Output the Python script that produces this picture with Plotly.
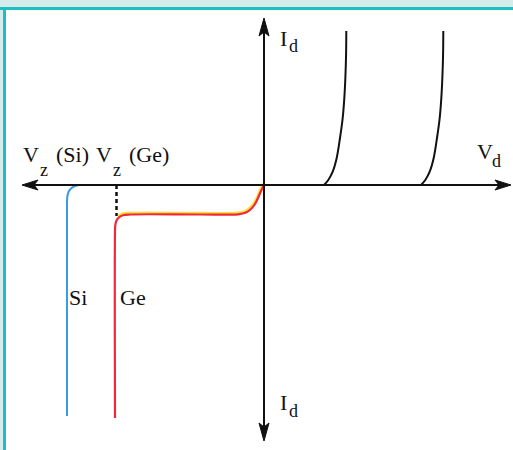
import plotly.graph_objects as go

# axis positions (pixel units of the picture)
origin_x = 264
origin_y = 185

# forward-bias curves (Ge and Si knees)
fwd_ge_x = [324, 328.3, 332.7, 336.7, 340, 342.7, 344.7, 346, 346.3]
fwd_ge_y = [185, 180, 171.7, 158, 138, 118, 91.7, 58, 31]
fwd_si_x = [421, 425.3, 429.7, 433.7, 437, 439.7, 441.7, 443, 443.3]
fwd_si_y = [185, 180, 171.7, 158, 138, 118, 91.7, 58, 31]

# reverse-bias curves
rev_ge_x = [264, 261, 258, 255, 251, 246, 238, 200, 130, 123, 119, 116.5, 115.3, 115, 115]
rev_ge_y = [185, 191, 198, 204, 209, 212.5, 214.3, 214.5, 214.5, 215.3, 217.3, 220.5, 225, 232, 418]
rev_si_x = [79, 75, 71, 68.5, 67.3, 67, 67]
rev_si_y = [185, 186, 188.5, 192, 197, 204, 416]

vz_ge_x = 116.5
vz_ge_y = 216

# text pieces: main letters and subscripts
main_text = ["I", "I", "V", "V", "(Si)", "V", "(Ge)", "Si", "Ge"]
main_x = [278, 278, 475, 21, 54, 94, 127, 67, 118]
main_y = [38, 402, 151, 154, 154, 154, 154, 297, 297]
sub_text = ["d", "d", "d", "z", "z"]
sub_x = [287, 287, 490, 38, 111]
sub_y = [46, 411, 161, 170, 170]

fig = go.Figure()

# yellow highlight under the Ge reverse curve
fig.add_trace(go.Scatter(x=[v - 0.8 for v in rev_ge_x[:11]], y=[v - 1.6 for v in rev_ge_y[:11]],
                         mode="lines", line=dict(color="#f5e03a", width=2.2, shape="spline"),
                         hoverinfo="skip"))
fig.add_trace(go.Scatter(x=rev_ge_x, y=rev_ge_y, mode="lines",
                         line=dict(color="#f0283c", width=2.2, shape="spline"), hoverinfo="skip"))
fig.add_trace(go.Scatter(x=rev_si_x, y=rev_si_y, mode="lines",
                         line=dict(color="#3a9be0", width=2, shape="spline"), hoverinfo="skip"))
fig.add_trace(go.Scatter(x=fwd_ge_x, y=fwd_ge_y, mode="lines",
                         line=dict(color="#111111", width=2, shape="spline"), hoverinfo="skip"))
fig.add_trace(go.Scatter(x=fwd_si_x, y=fwd_si_y, mode="lines",
                         line=dict(color="#111111", width=2, shape="spline"), hoverinfo="skip"))
# dashed Vz(Ge) marker
fig.add_trace(go.Scatter(x=[vz_ge_x, vz_ge_x], y=[origin_y, vz_ge_y], mode="lines",
                         line=dict(color="#111111", width=2.5, dash="4px,3px"), hoverinfo="skip"))

shapes = [
    # frame: light strip and teal border
    dict(type="rect", xref="paper", yref="paper", x0=0, x1=1, y0=1 - 7 / 450, y1=1,
         fillcolor="#d4ecec", line_width=0, layer="below"),
    dict(type="rect", xref="paper", yref="paper", x0=0, x1=3 / 513, y0=0, y1=1,
         fillcolor="#d4ecec", line_width=0, layer="below"),
    dict(type="rect", xref="paper", yref="paper", x0=0, x1=1, y0=1 - 10 / 450, y1=1 - 7 / 450,
         fillcolor="#1fbfc1", line_width=0, layer="below"),
    dict(type="rect", xref="paper", yref="paper", x0=3 / 513, x1=6 / 513, y0=0, y1=1 - 7 / 450,
         fillcolor="#1fbfc1", line_width=0, layer="below"),
    # axes
    dict(type="line", x0=30, x1=500, y0=origin_y, y1=origin_y, line=dict(color="#111111", width=2)),
    dict(type="line", x0=origin_x, x1=origin_x, y0=28, y1=430, line=dict(color="#111111", width=2)),
    # arrowheads
    dict(type="path", path="M 22 185 L 38 180 L 34 185 L 38 190 Z",
         fillcolor="#111111", line=dict(color="#111111", width=1)),
    dict(type="path", path="M 511 185 L 495 180 L 499 185 L 495 190 Z",
         fillcolor="#111111", line=dict(color="#111111", width=1)),
    dict(type="path", path="M 264 18 L 259 36 L 264 32 L 269 36 Z",
         fillcolor="#111111", line=dict(color="#111111", width=1)),
    dict(type="path", path="M 264 441 L 259 423 L 264 427 L 269 423 Z",
         fillcolor="#111111", line=dict(color="#111111", width=1)),
]

serif = "Liberation Serif, Times New Roman, serif"
annotations = []
for t, x, y in zip(main_text, main_x, main_y):
    annotations.append(dict(text=t, x=x, y=y, xanchor="left", yanchor="middle", showarrow=False,
                            font=dict(family=serif, size=22, color="#111111")))
for t, x, y in zip(sub_text, sub_x, sub_y):
    annotations.append(dict(text=t, x=x, y=y, xanchor="left", yanchor="middle", showarrow=False,
                            font=dict(family=serif, size=18, color="#111111")))

fig.update_layout(
    width=513, height=450, margin=dict(l=0, r=0, t=0, b=0),
    font=dict(family=serif, size=20, color="#111111"),
    paper_bgcolor="white", plot_bgcolor="white", showlegend=False,
    xaxis=dict(range=[0, 513], visible=False, fixedrange=True),
    yaxis=dict(range=[450, 0], visible=False, fixedrange=True),
    shapes=shapes, annotations=annotations,
)

fig.write_html("out.html", config={"displayModeBar": False},
               post_script="document.body.style.margin='0';")
